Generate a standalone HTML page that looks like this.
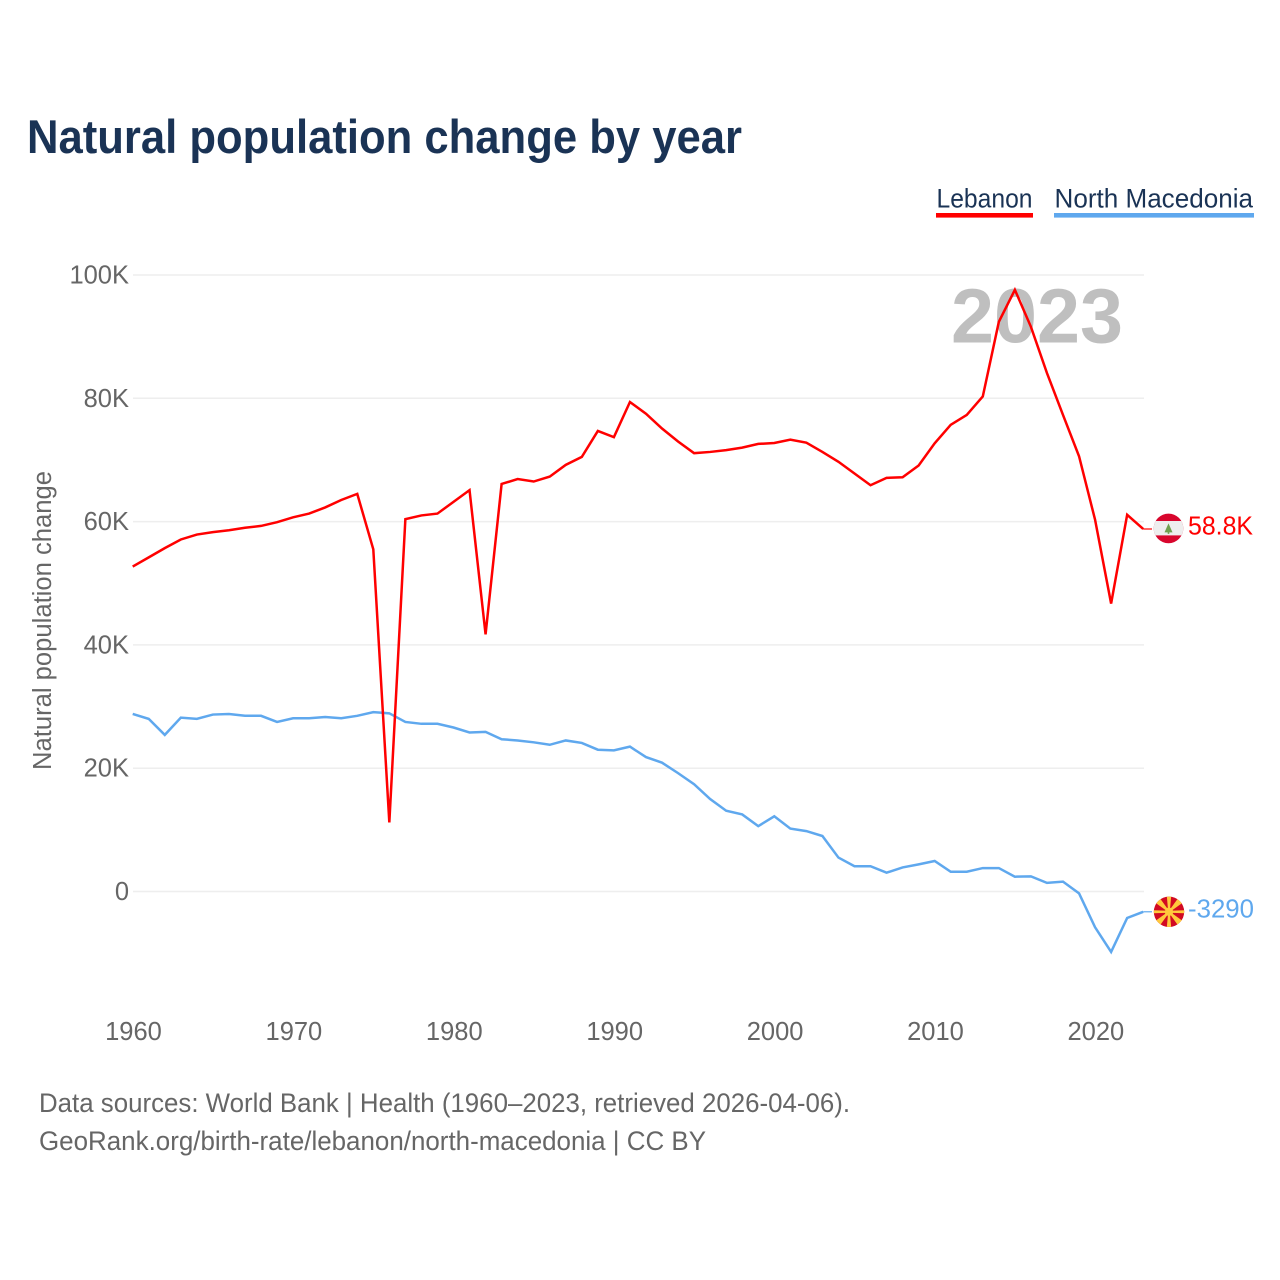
<!DOCTYPE html>
<html lang="en">
<head>
<meta charset="utf-8">
<title>Natural population change by year</title>
<style>
html,body{margin:0;padding:0;background:#fff;width:1280px;height:1280px;overflow:hidden}
svg{display:block;font-family:"Liberation Sans",sans-serif}
</style>
</head>
<body>
<svg id="chart" xmlns="http://www.w3.org/2000/svg" width="1280" height="1280" viewBox="0 0 1280 1280">
  <rect x="0" y="0" width="1280" height="1280" fill="#ffffff"/>
  <text x="27" y="153" font-size="47" font-weight="700" fill="#1a3355" textLength="715" lengthAdjust="spacingAndGlyphs">Natural population change by year</text>

  <g>
    <text x="936.5" y="207.5" font-size="26.5" fill="#1a3355" textLength="96" lengthAdjust="spacingAndGlyphs">Lebanon</text>
    <rect x="936" y="213" width="97" height="4.6" fill="#ff0000"/>
  </g>
  <g>
    <text x="1054.5" y="207.5" font-size="26.5" fill="#1a3355" textLength="198.5" lengthAdjust="spacingAndGlyphs">North Macedonia</text>
    <rect x="1054" y="213" width="200" height="4.6" fill="#5fa8ee"/>
  </g>

  <g id="grid"></g>
  <g id="yticks"></g>
  <g id="xticks"></g>

  <text transform="translate(51,620.5) rotate(-90)" text-anchor="middle" font-size="25.5" fill="#666666" textLength="299" lengthAdjust="spacingAndGlyphs">Natural population change</text>
  <text x="951" y="342.5" font-size="77" font-weight="700" fill="#bfbfbf" textLength="172" lengthAdjust="spacingAndGlyphs">2023</text>

  <g id="series"></g>

  <g id="flag-lb">
    <defs>
      <clipPath id="clip-lb"><circle cx="0" cy="0" r="14.8"/></clipPath>
      <clipPath id="clip-mk"><circle cx="0" cy="0" r="15.2"/></clipPath>
    </defs>
    <g clip-path="url(#clip-lb)">
      <rect x="-16" y="-16" width="32" height="32" fill="#d8062d"/>
      <rect x="-16" y="-7.4" width="32" height="14.4" fill="#eeeeee"/>
      <polygon points="0,-5 4,4 -4,4" fill="#6fa04e"/>
      <rect x="-0.8" y="3" width="1.6" height="2.5" fill="#6fa04e"/>
    </g>
  </g>
  <g id="flag-mk">
    <g clip-path="url(#clip-mk)">
      <rect x="-16" y="-16" width="32" height="32" fill="#d20a22"/>
      <g fill="#ffc93c">
        <polygon points="-0.8,0 0.8,0 2.2,-16 -2.2,-16"/>
        <polygon points="-0.6,0 0.6,0 3.2,-16 -3.2,-16" transform="rotate(45)"/>
        <polygon points="-1,0 1,0 1.5,-16 -1.5,-16" transform="rotate(90)"/>
        <polygon points="-0.6,0 0.6,0 3.2,-16 -3.2,-16" transform="rotate(135)"/>
        <polygon points="-0.8,0 0.8,0 2.2,-16 -2.2,-16" transform="rotate(180)"/>
        <polygon points="-0.6,0 0.6,0 3.2,-16 -3.2,-16" transform="rotate(225)"/>
        <polygon points="-1,0 1,0 1.5,-16 -1.5,-16" transform="rotate(270)"/>
        <polygon points="-0.6,0 0.6,0 3.2,-16 -3.2,-16" transform="rotate(315)"/>
      </g>
      <circle cx="0" cy="0" r="4.2" fill="#ffc93c"/>
    </g>
  </g>
  <text id="end-label-lb" x="1188" font-size="25.5" fill="#ff0000" textLength="65" lengthAdjust="spacingAndGlyphs"></text>
  <text id="end-label-mk" x="1188" font-size="25.5" fill="#5fa8ee" textLength="66" lengthAdjust="spacingAndGlyphs"></text>

  <text x="39" y="1112" font-size="26.5" fill="#666666" textLength="811" lengthAdjust="spacingAndGlyphs">Data sources: World Bank | Health (1960–2023, retrieved 2026-04-06).</text>
  <text x="39" y="1150" font-size="26.5" fill="#666666" textLength="667" lengthAdjust="spacingAndGlyphs">GeoRank.org/birth-rate/lebanon/north-macedonia | CC BY</text>
</svg>
<script>
const startYear = 1960;
const lebanonValues = [52.7,54.2,55.7,57.1,57.9,58.3,58.6,59.0,59.3,59.9,60.7,61.3,62.3,63.5,64.5,55.5,11.2,60.4,61.0,61.3,63.2,65.1,41.7,66.1,66.9,66.5,67.3,69.2,70.5,74.7,73.7,79.4,77.5,75.1,73.0,71.1,71.3,71.6,72.0,72.6,72.75,73.3,72.8,71.3,69.7,67.8,65.9,67.1,67.2,69.1,72.7,75.7,77.3,80.3,92.4,97.6,91.6,84.1,77.3,70.6,60.3,46.7,61.1,58.8];
const macedoniaValues = [28.8,28.0,25.4,28.2,28.0,28.7,28.8,28.5,28.5,27.5,28.1,28.1,28.3,28.1,28.5,29.1,28.9,27.5,27.2,27.2,26.6,25.8,25.9,24.7,24.5,24.2,23.8,24.5,24.1,23.0,22.9,23.5,21.8,20.9,19.2,17.4,15.0,13.1,12.5,10.6,12.2,10.2,9.8,9.0,5.5,4.1,4.1,3.05,3.9,4.4,4.95,3.2,3.2,3.8,3.8,2.4,2.45,1.4,1.6,-0.3,-5.8,-9.8,-4.3,-3.29];
const yTickValues = [0,20,40,60,80,100];
const yTickLabels = ["0","20K","40K","60K","80K","100K"];
const xTickValues = [1960,1970,1980,1990,2000,2010,2020];
const lebanonEndLabel = "58.8K";
const macedoniaEndLabel = "-3290";

const NS = "http://www.w3.org/2000/svg";
function xScale(year){ return 132.7 + (year - 1960) * (1010.5 / 63); }
function yScale(v){ return 891.5 - v * 6.165; }

const grid = document.getElementById("grid");
const yticks = document.getElementById("yticks");
const xticks = document.getElementById("xticks");
const series = document.getElementById("series");

yTickValues.forEach(function(v, i){
  const line = document.createElementNS(NS, "line");
  
  
  line.setAttribute("x1", 133);
  line.setAttribute("x2", 1144);
  line.setAttribute("y1", yScale(v));
  line.setAttribute("y2", yScale(v));
  line.setAttribute("stroke", "#eeeeee");
  line.setAttribute("stroke-width", "1.5");
  grid.appendChild(line);

  const t = document.createElementNS(NS, "text");
  
  
  t.setAttribute("x", 129);
  t.setAttribute("y", yScale(v) + 8.5);
  t.setAttribute("text-anchor", "end");
  t.setAttribute("font-size", "25.5");
  t.setAttribute("fill", "#666666");
  t.textContent = yTickLabels[i];
  yticks.appendChild(t);
});

xTickValues.forEach(function(year){
  const t = document.createElementNS(NS, "text");
  
  
  t.setAttribute("x", xScale(year) + 0.8);
  t.setAttribute("y", 1040);
  t.setAttribute("text-anchor", "middle");
  t.setAttribute("font-size", "25.5");
  t.setAttribute("fill", "#666666");
  t.textContent = String(year);
  xticks.appendChild(t);
});

function linePoints(values){
  return values.map(function(v, i){
    return xScale(startYear + i).toFixed(2) + "," + yScale(v).toFixed(2);
  }).join(" ");
}

const macedoniaLine = document.createElementNS(NS, "polyline");


macedoniaLine.setAttribute("points", linePoints(macedoniaValues));
macedoniaLine.setAttribute("fill", "none");
macedoniaLine.setAttribute("stroke", "#5fa8ee");
macedoniaLine.setAttribute("stroke-width", "2.5");
macedoniaLine.setAttribute("stroke-linejoin", "miter");
series.appendChild(macedoniaLine);

const lebanonLine = document.createElementNS(NS, "polyline");


lebanonLine.setAttribute("points", linePoints(lebanonValues));
lebanonLine.setAttribute("fill", "none");
lebanonLine.setAttribute("stroke", "#ff0000");
lebanonLine.setAttribute("stroke-width", "2.5");
lebanonLine.setAttribute("stroke-linejoin", "miter");
series.appendChild(lebanonLine);

const lastYear = startYear + lebanonValues.length - 1;
const lbY = yScale(lebanonValues[lebanonValues.length - 1]);
const mkY = yScale(macedoniaValues[macedoniaValues.length - 1]);

const lbConnector = document.createElementNS(NS, "line");


lbConnector.setAttribute("x1", xScale(lastYear));
lbConnector.setAttribute("x2", 1152);
lbConnector.setAttribute("y1", lbY);
lbConnector.setAttribute("y2", lbY);
lbConnector.setAttribute("stroke", "#ff0000");
lbConnector.setAttribute("stroke-width", "1.2");
series.appendChild(lbConnector);

const mkConnector = document.createElementNS(NS, "line");


mkConnector.setAttribute("x1", xScale(lastYear));
mkConnector.setAttribute("x2", 1152);
mkConnector.setAttribute("y1", mkY);
mkConnector.setAttribute("y2", mkY);
mkConnector.setAttribute("stroke", "#5fa8ee");
mkConnector.setAttribute("stroke-width", "1.2");
series.appendChild(mkConnector);

document.getElementById("flag-lb").setAttribute("transform", "translate(1168.5," + (lbY - 0.6) + ")");
document.getElementById("flag-mk").setAttribute("transform", "translate(1169," + mkY + ")");

const lbLabel = document.getElementById("end-label-lb");
lbLabel.setAttribute("y", lbY + 5.5);
lbLabel.textContent = lebanonEndLabel;
const mkLabel = document.getElementById("end-label-mk");
mkLabel.setAttribute("y", mkY + 5.5);
mkLabel.textContent = macedoniaEndLabel;
</script>
</body>
</html>
